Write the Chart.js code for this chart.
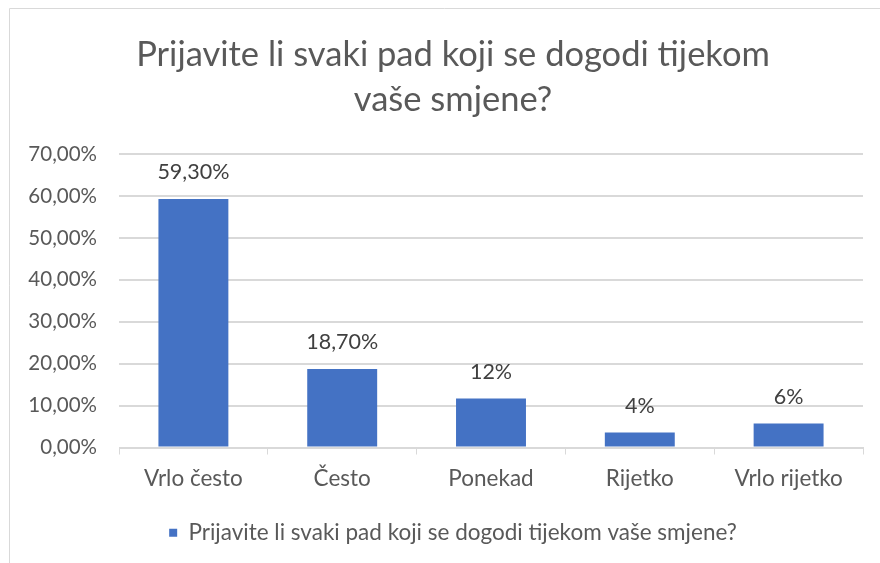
<!DOCTYPE html>
<html>
<head>
<meta charset="utf-8">
<script src="https://cdn.jsdelivr.net/npm/chart.js@4/dist/chart.umd.min.js"></script>
<style>
  html, body { margin: 0; padding: 0; background: #fff; }
  #wrap { width: 880px; height: 563px; position: relative; }
</style>
</head>
<body>
<div id="wrap"><canvas id="chart"></canvas></div>
<script>
const categories = ['Vrlo često', 'Često', 'Ponekad', 'Rijetko', 'Vrlo rijetko'];
const shares = [0.593, 0.187, 0.117, 0.036, 0.057];
const shareLabels = ['59,30%', '18,70%', '12%', '4%', '6%'];
const seriesName = 'Prijavite li svaki pad koji se dogodi tijekom vaše smjene?';
const titleLines = ['Prijavite li svaki pad koji se dogodi tijekom', 'vaše smjene?'];

const textColor = '#595959';
const gridColor = '#d9d9d9';
const font = 'Lato';

// light frame around the chart, like the office chart border
const framePlugin = {
    id: 'frame',
    beforeDraw(chart) {
        const ctx = chart.ctx;
        ctx.save();
        ctx.strokeStyle = gridColor;
        ctx.lineWidth = 1;
        ctx.beginPath();
        ctx.moveTo(9.5, chart.height);
        ctx.lineTo(9.5, 8.5);
        ctx.lineTo(chart.width, 8.5);
        ctx.stroke();
        ctx.restore();
    }
};

// value labels above each bar
const valueLabels = {
    id: 'valueLabels',
    afterDatasetsDraw(chart) {
        const ctx = chart.ctx;
        const meta = chart.getDatasetMeta(0);
        ctx.save();
        ctx.fillStyle = '#404040';
        ctx.font = '21.5px ' + font;
        ctx.textAlign = 'center';
        ctx.textBaseline = 'bottom';
        meta.data.forEach((bar, i) => {
            ctx.fillText(shareLabels[i], bar.x, bar.y - 16);
        });
        ctx.restore();
    }
};

new Chart(document.getElementById('chart'), {
    type: 'bar',
    data: {
        labels: categories,
        datasets: [{
            label: seriesName,
            data: shares,
            backgroundColor: '#4472c4',
            borderWidth: 0,
            barPercentage: 0.47,
            categoryPercentage: 1
        }]
    },
    options: {
        responsive: true,
        maintainAspectRatio: false,
        animation: false,
        layout: { padding: { left: 43, right: 17, top: 18, bottom: 9 } },
        plugins: {
            title: {
                display: true,
                text: titleLines,
                color: textColor,
                font: { family: font, size: 34.5, weight: 'normal', lineHeight: 1.32 },
                padding: { top: 14, bottom: 31 }
            },
            legend: {
                position: 'bottom',
                labels: {
                    color: textColor,
                    font: { family: font, size: 22.5 },
                    boxWidth: 8,
                    boxHeight: 8,
                    padding: 18
                }
            },
            tooltip: { enabled: false }
        },
        scales: {
            x: {
                grid: {
                    offset: true,
                    drawOnChartArea: false,
                    drawTicks: true,
                    tickLength: 7,
                    color: gridColor
                },
                border: { display: true, color: gridColor },
                ticks: {
                    color: textColor,
                    font: { family: font, size: 22.5 },
                    padding: 11
                }
            },
            y: {
                min: 0,
                max: 0.7,
                afterFit: scale => {
                    // narrow axis box so the title and legend sit centred like the original;
                    // labels are allowed to spill left of the box
                    scale.width = 76;
                    scale._computeLabelArea = () => undefined;
                },
                ticks: {
                    stepSize: 0.1,
                    color: textColor,
                    font: { family: font, size: 20.5 },
                    padding: 22,
                    callback: v => (v * 100).toFixed(2).replace('.', ',') + '%'
                },
                grid: { color: gridColor, drawTicks: false, lineWidth: 2 },
                border: { display: false }
            }
        }
    },
    plugins: [framePlugin, valueLabels]
});
</script>
</body>
</html>
